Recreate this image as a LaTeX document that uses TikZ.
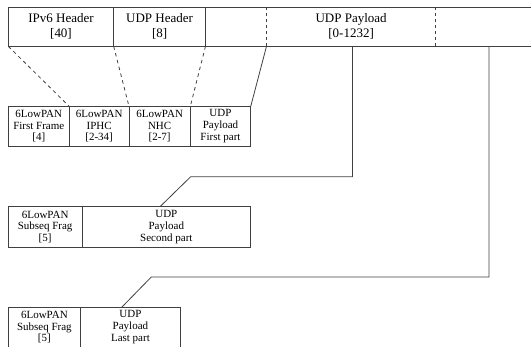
\documentclass[tikz,border=0pt]{standalone}
\usepackage{fontspec}
\setmainfont{Liberation Serif}
\definecolor{lc}{gray}{0.25}
\tikzset{
  rule/.style={draw=lc, line width=0.8pt},
  hcell/.style={anchor=north west, inner sep=0pt, outer sep=0pt, align=center,
    minimum height=39.3pt, font=\fontsize{13}{15}\selectfont},
  cell/.style={anchor=north west, inner sep=0pt, outer sep=0pt, align=center,
    rule, font=\fontsize{11}{11.7}\selectfont},
  link/.style={rule},
  dlink/.style={rule, dash pattern=on 3.5pt off 3.5pt},
}
\begin{document}
\begin{tikzpicture}[x=1pt, y=-1pt]
  \useasboundingbox (0,0) rectangle (531,346);
  \clip (0,0) rectangle (531,346);

  % original IPv6/UDP packet
  \node[hcell, minimum width=105.4pt] (ipv6) at (8.3,7) {IPv6 Header\\[0pt][40]};
  \node[hcell, minimum width=91.8pt]  (udph) at (113.7,7) {UDP Header\\[0pt][8]};
  \node[hcell, minimum width=61pt]    (p0)   at (205.5,7) {};
  \node[hcell, minimum width=169.2pt] (p1)   at (266.5,7) {UDP Payload\\[0pt][0-1232]};
  \node[hcell, minimum width=106.6pt] (p2)   at (435.7,7) {};
  \draw[rule] (ipv6.north west) rectangle (p2.south east);
  \draw[rule] (ipv6.north east) -- (ipv6.south east);
  \draw[rule] (udph.north east) -- (udph.south east);
  \draw[rule, dash pattern=on 3pt off 3pt] (p0.north east) -- (p0.south east);
  \draw[rule, dash pattern=on 3pt off 3pt] (p1.north east) -- (p1.south east);

  % first fragment
  \node[cell, minimum width=61pt,   minimum height=39.5pt] (ff)   at (8.3,106.5)   {6LowPAN\\First Frame\\{[4]}};
  \node[cell, minimum width=59.7pt, minimum height=39.5pt] (iphc) at (69.3,106.5)  {6LowPAN\\IPHC\\{[2-34]}};
  \node[cell, minimum width=61.3pt, minimum height=39.5pt] (nhc)  at (129,106.5)   {6LowPAN\\NHC\\{[2-7]}};
  \node[cell, minimum width=60.4pt, minimum height=39.5pt] (pl1)  at (190.3,106.5) {UDP\\Payload\\First part};

  % second fragment
  \node[cell, minimum width=73.7pt,  minimum height=40.6pt] (sf2) at (8.3,206.7) {6LowPAN\\Subseq Frag\\{[5]}};
  \node[cell, minimum width=168.7pt, minimum height=40.6pt] (pl2) at (82,206.7)  {UDP\\Payload\\Second part};

  % last fragment
  \node[cell, minimum width=72.2pt, minimum height=40.5pt] (sf3) at (8.3,307)  {6LowPAN\\Subseq Frag\\{[5]}};
  \node[cell, minimum width=99.9pt, minimum height=40.5pt] (pl3) at (80.5,307) {UDP\\Payload\\Last part};

  % header compression mapping
  \draw[dlink] (ipv6.south west) -- (ff.north east);
  \draw[dlink] (ipv6.south east) -- (iphc.north east);
  \draw[dlink] (udph.south east) -- (nhc.north east);
  \draw[link]  (p0.south east)   -- (pl1.north east);

  % payload split points
  \coordinate (k2) at (190.7,176.7);
  \coordinate (e2) at (160,206.7);
  \coordinate (k3) at (151.3,277);
  \coordinate (e3) at (122,307);
  \draw[link] ([xshift=1.4pt]p1.south) |- (k2) -- (e2);
  \draw[link] (p2.south) |- (k3) -- (e3);
\end{tikzpicture}
\end{document}
